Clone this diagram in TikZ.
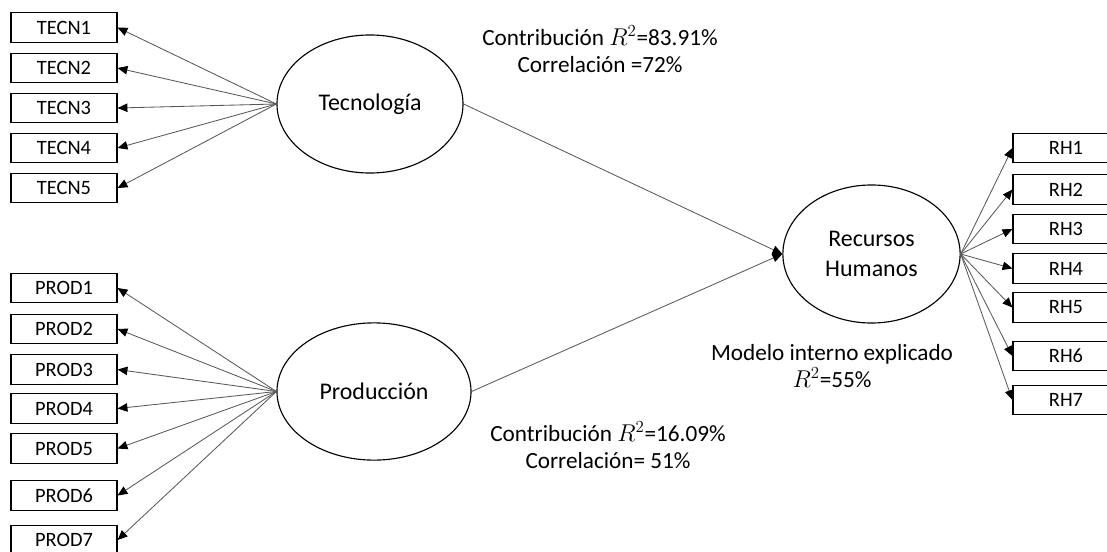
\documentclass[tikz,border=0pt]{standalone}
\usepackage{fontspec}
\setmainfont{Carlito}
\usepackage{tikz}
\usetikzlibrary{arrows.meta,shapes.geometric}

\begin{document}
\begin{tikzpicture}[
    x=0.025cm,
    y=-0.025cm,
    >={Triangle[length=7pt,width=6pt,color=black]},
    font=\fontsize{16.5}{19}\selectfont,
    indicator/.style={draw, line width=0.8pt, minimum width=2.65cm, minimum height=0.74cm, inner sep=0pt, font=\fontsize{14.5}{16}\selectfont},
    latent/.style={draw, ellipse, line width=0.8pt, align=center, inner sep=0pt, font=\fontsize{17}{21}\selectfont},
    link/.style={->, black!65, line width=0.6pt},
    note/.style={align=center, inner sep=1pt}
]
\useasboundingbox (0,0) rectangle (1107,552);

% --- Variables latentes ---
\node[latent, minimum width=4.65cm, minimum height=3.45cm] (tec)  at (370,104)   {Tecnología};
\node[latent, minimum width=4.85cm, minimum height=3.43cm] (prod) at (374,391.5) {Producción};
\node[latent, minimum width=4.43cm, minimum height=3.45cm] (rh)   at (871.5,254) {Recursos\\Humanos};

% --- Indicadores ---
\foreach \i/\y in {1/27.5,2/68,3/108,4/148,5/188} {
    \node[indicator] (tecn\i) at (64,\y) {TECN\i};
    \draw[link] (tec.west) -- (tecn\i.east);
}

\foreach \i/\y in {1/288,2/329,3/369.5,4/408.5,5/448.5,6/495.5,7/540} {
    \node[indicator] (prod\i) at (64,\y) {PROD\i};
    \draw[link] (prod.west) -- (prod\i.east);
}

\foreach \i/\y in {1/148,2/189.5,3/229,4/268.5,5/307.5,6/356,7/400} {
    \node[indicator] (rh\i) at (1066,\y) {RH\i};
    \draw[link] (rh.east) -- (rh\i.west);
}

% --- Modelo estructural ---
\draw[link] (tec.east) -- (rh.west);
\draw[link] (prod.east) -- (rh.west);

% --- Resultados ---
\node[note] (tecres)  at (600,49)  {Contribución $R^2$=83.91\%\\Correlación =72\%};
\node[note] (prodres) at (608,445) {Contribución $R^2$=16.09\%\\Correlación= 51\%};
\node[note] (rhres)   at (832,366) {Modelo interno explicado\\$R^2$=55\%};

\end{tikzpicture}
\end{document}
